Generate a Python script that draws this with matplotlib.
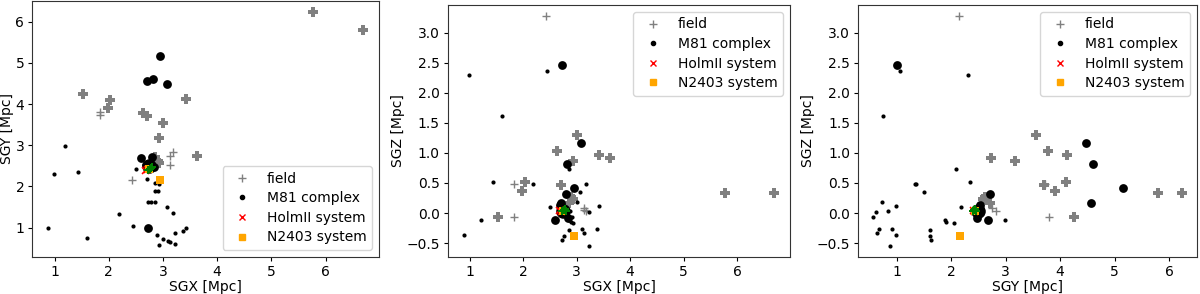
import numpy as np
import matplotlib
matplotlib.use("Agg")
import matplotlib.pyplot as plt
from matplotlib.lines import Line2D

# Supergalactic coordinates [Mpc]: SGX, SGY, SGZ
field_bright_sgx = [5.77, 6.70, 1.52, 3.00, 2.63, 3.42, 2.93, 3.63, 2.03, 1.98, 2.70, 2.85, 2.90, 2.93]
field_bright_sgy = [6.23, 5.80, 4.25, 3.55, 3.78, 4.13, 3.17, 2.73, 4.10, 3.90, 3.70, 2.72, 2.62, 2.58]
field_bright_sgz = [0.33, 0.33, -0.07, 1.30, 1.04, 0.97, 0.87, 0.91, 0.52, 0.37, 0.47, 0.16, 0.27, 0.23]

field_faint_sgx = [2.42, 1.83, 1.83, 3.18, 3.13, 3.13]
field_faint_sgy = [2.15, 3.73, 3.80, 2.83, 2.75, 2.52]
field_faint_sgz = [3.27, 0.48, -0.06, 0.03, 0.08, 0.05]

m81_main_sgx = [2.74]
m81_main_sgy = [2.50]
m81_main_sgz = [0.03]

m81_bright_sgx = [2.72, 3.08, 2.82, 2.95, 2.70, 2.80, 2.60, 2.68, 2.83]
m81_bright_sgy = [1.00, 4.48, 4.60, 5.16, 4.57, 2.72, 2.68, 2.52, 2.47]
m81_bright_sgz = [2.46, 1.16, 0.82, 0.42, 0.17, 0.32, -0.11, 0.13, -0.08]

m81_faint_sgx = [1.20, 0.98, 1.43, 0.88, 1.60, 2.18, 2.45, 2.50, 2.70, 2.85, 2.93, 2.85, 2.90,
                 2.72, 2.77, 2.85, 3.07, 3.18, 2.88, 3.22, 3.37, 3.42, 2.92, 3.00, 3.10, 3.13, 3.22]
m81_faint_sgy = [2.98, 2.31, 2.35, 0.98, 0.74, 1.34, 1.05, 2.42, 2.18, 2.09, 2.05, 1.88, 1.90,
                 1.62, 1.61, 1.61, 1.50, 1.35, 0.83, 0.87, 0.92, 0.99, 0.57, 0.73, 0.67, 0.64, 0.61]
m81_faint_sgz = [-0.11, 2.29, 0.52, -0.36, 1.62, 0.48, 2.36, 0.10, 0.10, 0.73, -0.16, -0.12, -0.15,
                 -0.45, -0.39, -0.28, 0.35, 0.49, 0.04, -0.54, -0.26, 0.11, -0.06, 0.18, -0.27, -0.33, 0.02]

holm_sgx = [2.67, 2.70]
holm_sgy = [2.40, 2.42]
holm_sgz = [0.05, 0.04]

n2403_sgx = [2.95, 2.75]
n2403_sgy = [2.16, 2.43]
n2403_sgz = [-0.39, 0.03]

other_sgx = [2.76, 2.80, 2.73, 2.78]
other_sgy = [2.42, 2.46, 2.39, 2.44]
other_sgz = [0.05, 0.04, 0.03, 0.07]

coords = {
    "SGX": (field_bright_sgx, field_faint_sgx, m81_main_sgx, m81_bright_sgx, m81_faint_sgx,
            holm_sgx, n2403_sgx, other_sgx),
    "SGY": (field_bright_sgy, field_faint_sgy, m81_main_sgy, m81_bright_sgy, m81_faint_sgy,
            holm_sgy, n2403_sgy, other_sgy),
    "SGZ": (field_bright_sgz, field_faint_sgz, m81_main_sgz, m81_bright_sgz, m81_faint_sgz,
            holm_sgz, n2403_sgz, other_sgz),
}

plt.rcParams["font.size"] = 10
plt.rcParams["xtick.major.size"] = 2.9
plt.rcParams["ytick.major.size"] = 2.9
plt.rcParams["xtick.major.pad"] = 2.9
plt.rcParams["ytick.major.pad"] = 2.9
plt.rcParams["axes.edgecolor"] = "#333333"

fig = plt.figure(figsize=(12, 2.94), dpi=100)
positions = [
    [0.027, 0.126, 0.289, 0.872],
    [0.3733, 0.126, 0.285, 0.857],
    [0.715, 0.126, 0.2825, 0.857],
]
pairs = [("SGX", "SGY"), ("SGX", "SGZ"), ("SGY", "SGZ")]
legend_locs = ["lower right", "upper right", "upper right"]

handles = [
    Line2D([], [], ls="none", marker="+", color="gray", markersize=6),
    Line2D([], [], ls="none", marker=".", color="black", markersize=6),
    Line2D([], [], ls="none", marker="x", color="red", markersize=5),
    Line2D([], [], ls="none", marker="s", color="orange", markersize=5),
]
labels = ["field", "M81 complex", "HolmII system", "N2403 system"]

for pos, (xk, yk), loc in zip(positions, pairs, legend_locs):
    ax = fig.add_axes(pos)
    fbx, ffx, mmx, mbx, mfx, hx, nx, ox = coords[xk]
    fby, ffy, mmy, mby, mfy, hy, ny, oy = coords[yk]
    ax.scatter(fbx, fby, marker="P", s=45, color="gray", linewidths=0)
    ax.scatter(ffx, ffy, marker="+", s=35, color="gray", linewidths=1)
    ax.scatter(mmx, mmy, s=110, color="black", linewidths=0)
    ax.scatter(mbx, mby, s=40, color="black", linewidths=0)
    ax.scatter(mfx, mfy, s=9, color="black", linewidths=0)
    ax.scatter(hx, hy, marker="x", s=25, color="red", linewidths=1.2)
    ax.scatter(nx, ny, marker="s", s=36, color="orange", linewidths=0)
    ax.scatter(ox, oy, marker="P", s=30, color="green", linewidths=0)
    ax.set_xlabel(f"{xk} [Mpc]", labelpad=1)
    ax.set_ylabel(f"{yk} [Mpc]", labelpad=1)
    ax.legend(handles, labels, loc=loc, labelspacing=0.4)

fig.savefig("out.png", dpi=100)
